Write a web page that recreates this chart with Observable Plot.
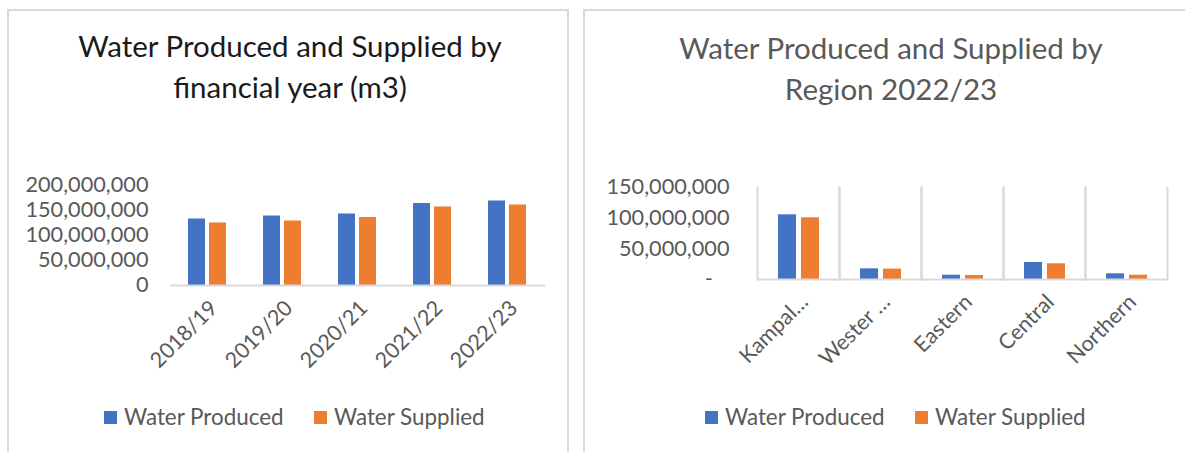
<!DOCTYPE html>
<html>
<head>
<meta charset="utf-8">
<script src="https://cdn.jsdelivr.net/npm/d3@7"></script>
<script src="https://cdn.jsdelivr.net/npm/@observablehq/plot@0.6"></script>
<style>
  html, body { margin: 0; padding: 0; background: #fff; }
  body { position: relative; width: 1185px; height: 452px; overflow: hidden; font-family: Lato, sans-serif; }
  .panel { position: absolute; border: 2px solid #d9d9d9; box-sizing: border-box; }
  .title { position: absolute; text-align: center; white-space: nowrap; font-size: 29.5px; line-height: 41px; transform: translateX(-50%); }
  .legend-item { position: absolute; display: flex; align-items: center; font-size: 22.4px; line-height: 26px; color: #595959; white-space: nowrap; }
  .sw { width: 13px; height: 13px; display: inline-block; margin-right: 7px; }
  .chart { position: absolute; }
</style>
</head>
<body>
<div class="panel" style="left:7px;top:9px;width:562px;height:480px"></div>
<div class="panel" style="left:583px;top:9px;width:640px;height:480px"></div>

<div class="title" style="left:290px;top:25px;color:#1a1a1a">Water Produced and Supplied by<br>financial year (m3)</div>
<div class="title" style="left:891px;top:27px;color:#595959">Water Produced and Supplied by<br>Region 2022/23</div>

<div id="chart1" class="chart" style="left:7px;top:170px"></div>
<div id="chart2" class="chart" style="left:583px;top:170px"></div>

<div id="legend1"></div>
<div id="legend2"></div>

<script>
// ---- Data ----
const seriesNames = ["Water Produced", "Water Supplied"];
const seriesColors = ["#4472C4", "#ED7D31"];

const years = ["2018/19", "2019/20", "2020/21", "2021/22", "2022/23"];
const yearProduced = [133000000, 139000000, 143000000, 164000000, 169000000];
const yearSupplied = [125000000, 129000000, 136000000, 157000000, 161000000];
const yearTicks = [0, 50000000, 100000000, 150000000, 200000000];

const regions = ["Kampala", "Western", "Eastern", "Central", "Northern"];
const regionLabels = ["Kampal\u2026", "Wester \u2026", "Eastern", "Central", "Northern"];
const regionProduced = [105500000, 17400000, 7000000, 27700000, 9300000];
const regionSupplied = [100600000, 17000000, 6500000, 25600000, 7000000];
const regionTicks = [0, 50000000, 100000000, 150000000];

const fmtComma = d3.format(",");

function buildRows(cats, prod, supp) {
  return cats.flatMap((c, i) => [
    {cat: c, series: seriesNames[0], value: prod[i]},
    {cat: c, series: seriesNames[1], value: supp[i]}
  ]);
}

function makeChart(o) {
  const rows = buildRows(o.cats, o.prod, o.supp);
  const marks = [];
  if (o.separators) {
    marks.push(Plot.frame({anchor: "left", stroke: "#d9d9d9", strokeWidth: 2}));
    marks.push(Plot.frame({anchor: "right", stroke: "#d9d9d9", strokeWidth: 2}));
  }
  marks.push(Plot.barY(rows, {x: "series", y: "value", fill: "series"}));
  marks.push(Plot.ruleY([0], {stroke: "#d9d9d9", strokeWidth: 2}));
  marks.push(Plot.axisY({ticks: o.yTicks, tickSize: 0, tickPadding: o.tickPadding, tickFormat: o.yFmt, fontSize: 21.7, fill: "#595959", label: null}));
  marks.push(Plot.axisFx({anchor: "bottom", tickSize: 0, tickRotate: -45, tickPadding: o.fxPadding, dx: 6, dy: 11, fontSize: 21.5, fill: "#595959", label: null, tickFormat: d => o.labels[o.cats.indexOf(d)]}));
  return Plot.plot({
    width: o.width,
    height: o.height,
    marginLeft: o.marginLeft,
    marginRight: o.width - o.marginLeft - o.plotW,
    marginTop: o.marginTop,
    marginBottom: o.height - o.marginTop - o.plotH,
    style: {fontFamily: "Lato, sans-serif", color: "#595959", background: "transparent", overflow: "visible"},
    facet: {data: rows, x: "cat"},
    fx: {domain: o.cats, padding: 0, label: null},
    x: {domain: seriesNames, paddingInner: o.pi, paddingOuter: o.po, axis: null},
    y: {domain: [0, o.yMax], axis: null},
    color: {domain: seriesNames, range: seriesColors},
    marks
  });
}

document.getElementById("chart1").append(makeChart({
  cats: years, labels: years, prod: yearProduced, supp: yearSupplied,
  width: 561, height: 220, marginLeft: 163, plotW: 375, marginTop: 15, plotH: 100,
  yMax: 200000000, yTicks: yearTicks, yFmt: fmtComma, tickPadding: 22,
  pi: 0.19, po: 0.88, separators: false, fxPadding: 8
}));

document.getElementById("chart2").append(makeChart({
  cats: regions, labels: regionLabels, prod: regionProduced, supp: regionSupplied,
  width: 602, height: 220, marginLeft: 174, plotW: 410, marginTop: 17, plotH: 92,
  yMax: 150000000, yTicks: regionTicks, yFmt: d => d === 0 ? "-\u00a0\u00a0\u00a0" : fmtComma(d), tickPadding: 28,
  pi: 0.225, po: 0.85, separators: true, fxPadding: 8
}));

function legend(id, positions, top) {
  const host = document.getElementById(id);
  seriesNames.forEach((name, i) => {
    const item = document.createElement("div");
    item.className = "legend-item";
    item.style.left = positions[i] + "px";
    item.style.top = top + "px";
    const sw = document.createElement("span");
    sw.className = "sw";
    sw.style.background = seriesColors[i];
    item.append(sw, document.createTextNode(name));
    host.append(item);
  });
}
legend("legend1", [104, 314], 404);
legend("legend2", [705, 915], 404);
</script>
</body>
</html>
